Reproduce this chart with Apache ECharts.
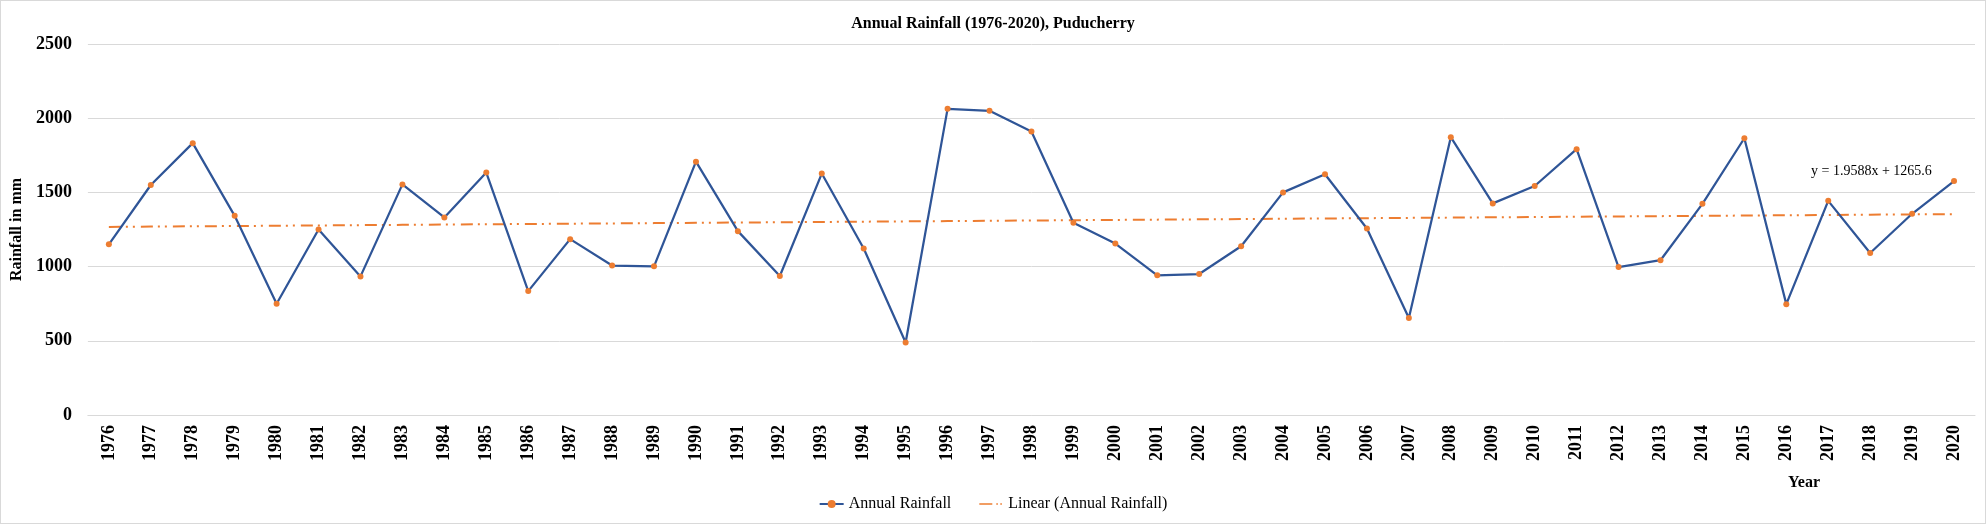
<!DOCTYPE html>
<html>
<head>
<meta charset="utf-8">
<script src="https://cdn.jsdelivr.net/npm/echarts@6/dist/echarts.min.js"></script>
<style>
html,body{margin:0;padding:0;background:#fff;}
#c{width:1986px;height:524px;box-sizing:border-box;border:1px solid #D9D9D9;}
</style>
</head>
<body>
<div id="c"></div>
<script>
const years = ['1976','1977','1978','1979','1980','1981','1982','1983','1984','1985','1986','1987','1988','1989','1990','1991','1992','1993','1994','1995','1996','1997','1998','1999','2000','2001','2002','2003','2004','2005','2006','2007','2008','2009','2010','2011','2012','2013','2014','2015','2016','2017','2018','2019','2020'];
const rainfall = [1150,1550,1832,1342,750,1250,934,1554,1331,1634,835,1185,1007,1002,1707,1239,937,1627,1122,489,2063,2050,1910,1295,1155,941,950,1137,1500,1622,1257,653,1872,1426,1543,1791,997,1043,1423,1865,747,1443,1092,1356,1576];
const trendSlope = 1.9588;
const trendIntercept = 1265.6;
const yTicks = [0,500,1000,1500,2000,2500];
const trend = years.map((y,i)=> +(trendSlope*(i+1)+trendIntercept).toFixed(1));

const font = 'Liberation Serif';
const chart = echarts.init(document.getElementById('c'));
chart.setOption({
  animation:false,
  textStyle:{fontFamily:font},
  title:{text:'Annual Rainfall (1976-2020), Puducherry',left:'center',top:10,
    textStyle:{fontFamily:font,fontSize:16,fontWeight:'bold',color:'#000'}},
  grid:{left:84,right:10,top:43,bottom:108,containLabel:false},
  legend:{bottom:6,left:'center',itemWidth:24,itemHeight:10,itemGap:28,
    textStyle:{fontFamily:font,fontSize:16,color:'#000'},
    data:[{name:'Annual Rainfall'},
      {name:'Linear (Annual Rainfall)',icon:'path://M0,0h0.01v0.01h-0.01z M0,4.2h13v1.6h-13z M17,4.2h1.6v1.6h-1.6z M21,4.2h1.6v1.6h-1.6z M23.99,10h0.01v-0.01h-0.01z',
       itemStyle:{color:'#ED7D31'}}]},
  xAxis:{type:'category',data:years,boundaryGap:true,
    axisLine:{lineStyle:{color:'#D9D9D9',width:1}},
    axisTick:{show:false},
    axisLabel:{rotate:90,interval:0,margin:10,fontFamily:font,fontSize:18,fontWeight:'bold',color:'#000'}},
  yAxis:{type:'value',min:yTicks[0],max:yTicks[yTicks.length-1],interval:500,
    name:'Rainfall in mm',nameLocation:'middle',nameGap:58,
    nameTextStyle:{fontFamily:font,fontSize:16,fontWeight:'bold',color:'#000'},
    axisLine:{show:false},axisTick:{show:false},
    axisLabel:{margin:16,fontFamily:font,fontSize:18,fontWeight:'bold',color:'#000',formatter:v=>String(v)},
    splitLine:{lineStyle:{color:'#D9D9D9',width:1}}},
  graphic:[
    {type:'text',left:1810,top:163,style:{text:'y = 1.9588x + 1265.6',font:'14px "Liberation Serif"',fill:'#000'}},
    {type:'text',left:1787,top:474,style:{text:'Year',font:'bold 16px "Liberation Serif"',fill:'#000'}}
  ],
  series:[
    {name:'Linear (Annual Rainfall)',type:'line',data:trend,showSymbol:false,symbol:'none',
      lineStyle:{color:'#ED7D31',width:2,type:[12,5,2,5,2,6]},itemStyle:{color:'#ED7D31'},z:1},
    {name:'Annual Rainfall',type:'line',data:rainfall,symbol:'circle',symbolSize:6,
      lineStyle:{color:'#2F5597',width:2.25},itemStyle:{color:'#ED7D31',borderWidth:0},z:2}
  ]
});
</script>
</body>
</html>
